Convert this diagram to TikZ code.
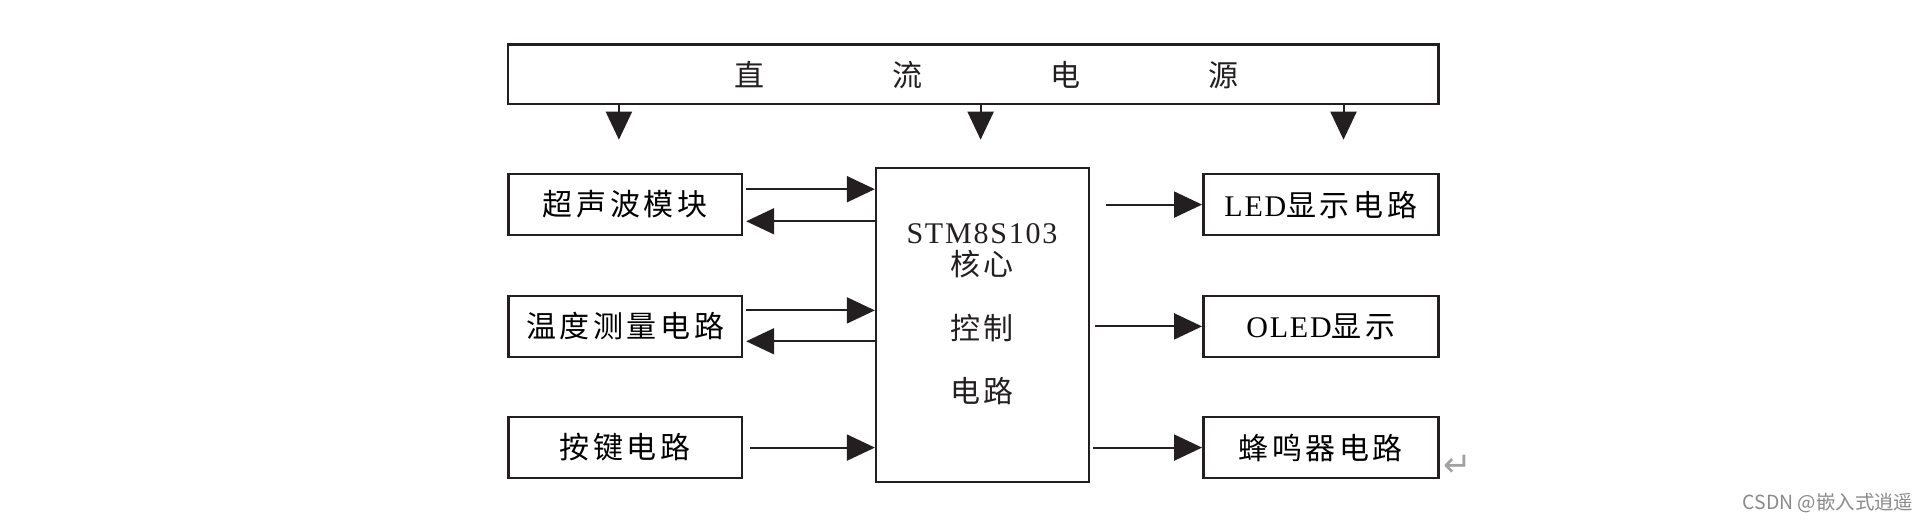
\documentclass[tikz,border=0pt]{standalone}
\usepackage{fontspec}
\setmainfont{Liberation Serif}[LetterSpace=6]
\newfontfamily\cjk{Noto Sans CJK SC}[LetterSpace=12]
\newfontfamily\cjkplain{Noto Sans CJK SC}
\newfontfamily\symfont{DejaVu Sans}
\usetikzlibrary{arrows.meta}
\definecolor{ink}{HTML}{231F20}
\definecolor{wm}{HTML}{8A8A8A}
\tikzset{
  blk/.style={draw=ink, line width=2.5pt, fill=white, inner sep=0pt, font=\fontsize{30}{33}\selectfont},
  arr/.style={draw=ink, line width=2pt, -{Triangle[length=28pt,width=26pt]}},
  txt/.style={inner sep=0pt, text=ink, font=\fontsize{30}{33}\selectfont},
}
\begin{document}
\begin{tikzpicture}[x=1pt,y=1pt]
\useasboundingbox (0,0) rectangle (1929,521);
\fill[white] (0,0) rectangle (1929,521);
% power bar
\node[blk, minimum width=930.1pt, minimum height=59.4pt] (power) at (973.2,446.8) {};
\node[txt] (powert) at (986,445.6) {\cjkplain 直\hspace{128pt}流\hspace{128pt}电\hspace{128pt}源};
\coordinate (d1) at (618.9,381.3);
\coordinate (d2) at (980.6,381.3);
\coordinate (d3) at (1343.5,381.3);
\draw[arr] (power.south -| d1) -- (d1);
\draw[arr] (power.south -| d2) -- (d2);
\draw[arr] (power.south -| d3) -- (d3);
% left boxes
\node[blk, minimum width=233.7pt, minimum height=61pt] (b1) at (625.1,316.4) {\cjk 超声波模块};
\node[blk, minimum width=233.7pt, minimum height=61pt] (b2) at (625.1,194.6) {\cjk 温度测量电路};
\node[blk, minimum width=233.7pt, minimum height=61pt] (b3) at (625.1,73.4) {\cjk 按键电路};
% core
\node[blk, minimum width=212.8pt, minimum height=314pt] (core) at (982.5,195.8) {};
\node[txt, align=center] (coret) at (982,207) {STM8S103\\[-1pt]{\cjk 核心}\\[31pt]{\cjk 控制}\\[30pt]{\cjk 电路}};
% right boxes
\node[blk, minimum width=235pt, minimum height=61pt] (r1) at (1320.8,316.4) {LED{\cjk 显示电路}};
\node[blk, minimum width=235pt, minimum height=61pt] (r2) at (1320.8,194.6) {OLED{\cjk 显示}};
\node[blk, minimum width=235pt, minimum height=61pt] (r3) at (1320.8,73.4) {\cjk 蜂鸣器电路};
% left connectors
\draw[arr] ([xshift=3pt,yshift=15.4pt]b1.east) -- ([yshift=15.4pt]b1.east -| core.west);
\draw[arr] ([yshift=-16.7pt]b1.east -| core.west) -- ([xshift=3pt,yshift=-16.7pt]b1.east);
\draw[arr] ([xshift=3pt,yshift=16pt]b2.east) -- ([yshift=16pt]b2.east -| core.west);
\draw[arr] ([yshift=-14.9pt]b2.east -| core.west) -- ([xshift=3pt,yshift=-14.9pt]b2.east);
\draw[arr] ([xshift=7pt]b3.east) -- (b3.east -| core.west);
% right connectors
\draw[arr] ([xshift=16pt]core.east |- r1.west) -- (r1.west);
\draw[arr] ([xshift=5pt]core.east |- r2.west) -- (r2.west);
\draw[arr] ([xshift=3pt]core.east |- r3.west) -- (r3.west);
% return mark and watermark
\node[inner sep=0pt, text=wm!80, font=\symfont\fontsize{34}{34}\selectfont] (ret) at (1458,55) {↵};
\node[inner sep=0pt, anchor=east, text=wm, font=\cjkplain\fontsize{19.4}{19.4}\selectfont] (wmk) at (1913.5,18) {CSDN @嵌入式逍遥};
\end{tikzpicture}
\end{document}
